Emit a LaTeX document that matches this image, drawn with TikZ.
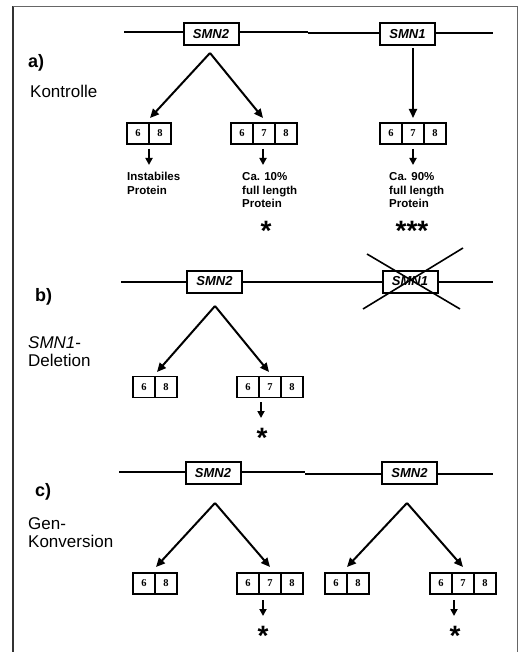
\documentclass[tikz,border=0pt]{standalone}
\usepackage{fontspec}
\setmainfont{Liberation Sans}
\newfontfamily\serifdig{Liberation Serif}
\usetikzlibrary{arrows.meta}
\tikzset{
 dna/.style={line width=2pt},
 crossline/.style={line width=1.6pt},
 gene/.style={draw, line width=2pt, fill=white, minimum width=55pt, minimum height=22pt, inner sep=0pt, font=\fontsize{13}{14}\selectfont\bfseries\itshape},
 cell/.style={draw, line width=1.9pt, minimum width=22pt, minimum height=21pt, inner sep=0pt, outer sep=0pt, font=\serifdig\fontsize{10.5}{11}\selectfont\bfseries},
 arr/.style={line width=2pt, -{Triangle[length=9pt,width=8pt]}},
 sarr/.style={line width=2pt, -{Triangle[length=7pt,width=7pt]}},
 prot/.style={anchor=north west, inner sep=0pt, align=left, font=\fontsize{11.5}{13.8}\selectfont\bfseries},
 lab/.style={anchor=west, inner sep=0pt, font=\fontsize{18}{20}\selectfont\bfseries},
 desc/.style={anchor=north west, inner sep=0pt, align=left, font=\fontsize{17}{18.5}\selectfont},
 star/.style={anchor=base, inner sep=0pt, font=\fontsize{28}{28}\selectfont\bfseries},
}
\begin{document}
\begin{tikzpicture}[x=1pt,y=-1pt]
\useasboundingbox (0,0) rectangle (518,652);
% frame
\coordinate (fBL) at (12.5,652); \coordinate (fTL) at (12.5,6.5);
\coordinate (fTR) at (517,6.5); \coordinate (fBR) at (517,652);
\draw[line width=2pt, black!80] (fBL) -- (fTL);
\draw[line width=1.8pt, black!60] (fTL) -- (fTR);
\draw[line width=1pt, black!60] (fTR) -- (fBR);

% ================= a)
\coordinate (aL1) at (124,32); \coordinate (aR1) at (308,32);
\coordinate (aL2) at (308,33); \coordinate (aR2) at (493,33);
\draw[dna] (aL1) -- (aR1);
\draw[dna] (aL2) -- (aR2);
\node[gene] (aS2) at (211,34) {SMN2};
\node[gene] (aS1) at (407.5,34) {SMN1};
\node[lab] (la) at (28,63) {a)};
\node[desc, anchor=west] (ka) at (30,91) {Kontrolle};

\coordinate (aA) at (210,53);
\coordinate (aT1) at (150,118); \coordinate (aT2) at (263,118);
\coordinate (aB) at (413,48); \coordinate (aT3) at (413,118);
\draw[arr] (aA) -- (aT1);
\draw[arr] (aA) -- (aT2);
\draw[arr] (aB) -- (aT3);

\node[cell] (a61) at (138,133.5) {6};
\node[cell] (a81) at (160,133.5) {8};
\node[cell] (a62) at (242,133.5) {6};
\node[cell] (a72) at (264,133.5) {7};
\node[cell] (a82) at (286,133.5) {8};
\node[cell] (a63) at (391,133.5) {6};
\node[cell] (a73) at (413,133.5) {7};
\node[cell] (a83) at (435,133.5) {8};

\draw[sarr] ([yshift=-5pt]a61.south east) -- ([yshift=-21pt]a61.south east);
\draw[sarr] ([yshift=-5pt,xshift=-1pt]a72.south) -- ([yshift=-21pt,xshift=-1pt]a72.south);
\draw[sarr] ([yshift=-5pt]a73.south) -- ([yshift=-21pt]a73.south);

\node[prot] (aP1) at (127,172) {Instabiles\\Protein};
\node[prot] (aP2) at (242,172) {Ca. 10\%\\full length\\Protein};
\node[prot] (aP3) at (389,172) {Ca. 90\%\\full length\\Protein};
\node[star] (aSt1) at (266,240) {*};
\node[star] (aSt3) at (412,240) {***};

% ================= b)
\coordinate (bL) at (121,282); \coordinate (bR) at (493,282);
\draw[dna] (bL) -- (bR);
\node[gene] (bS2) at (214.5,281.5) {SMN2};
\node[gene] (bS1) at (410,281.5) {SMN1};
\coordinate (bX1) at (367,254); \coordinate (bX2) at (460,309);
\coordinate (bX3) at (463,248); \coordinate (bX4) at (363,309);
\draw[crossline] (bX1) -- (bX2);
\draw[crossline] (bX3) -- (bX4);
\node[lab] (lb) at (35,297) {b)};
\node[desc] (kb) at (28,336) {\itshape SMN1\upshape -\\Deletion};

\coordinate (bA) at (215,306);
\coordinate (bT1) at (157,372); \coordinate (bT2) at (269,372);
\draw[arr] (bA) -- (bT1);
\draw[arr] (bA) -- (bT2);
\node[cell] (b61) at (144,387) {6};
\node[cell] (b81) at (166,387) {8};
\node[cell] (b62) at (248,387) {6};
\node[cell] (b72) at (270,387) {7};
\node[cell] (b82) at (292,387) {8};
\coordinate (bs1) at (261,402); \coordinate (bs2) at (261,418);
\draw[sarr] (bs1) -- (bs2);
\node[star] (bSt) at (262,447) {*};

% ================= c)
\coordinate (cL1) at (119,472); \coordinate (cR1) at (305,472);
\coordinate (cL2) at (305,474); \coordinate (cR2) at (493,474);
\draw[dna] (cL1) -- (cR1);
\draw[dna] (cL2) -- (cR2);
\node[gene] (cS2a) at (213,473) {SMN2};
\node[gene] (cS2b) at (409.5,473) {SMN2};
\node[lab] (lc) at (35,492) {c)};
\node[desc] (kc) at (28,517) {Gen-\\Konversion};

\coordinate (cA) at (215,503); \coordinate (cB) at (407,503);
\coordinate (cT1) at (156,567); \coordinate (cT2) at (270,567);
\coordinate (cT3) at (347,567); \coordinate (cT4) at (463,567);
\draw[arr] (cA) -- (cT1);
\draw[arr] (cA) -- (cT2);
\draw[arr] (cB) -- (cT3);
\draw[arr] (cB) -- (cT4);
\node[cell] (c61) at (144,583.5) {6};
\node[cell] (c81) at (166,583.5) {8};
\node[cell] (c62) at (248,583.5) {6};
\node[cell] (c72) at (270,583.5) {7};
\node[cell] (c82) at (292,583.5) {8};
\node[cell] (c63) at (336,583.5) {6};
\node[cell] (c83) at (358,583.5) {8};
\node[cell] (c64) at (441,583.5) {6};
\node[cell] (c74) at (463,583.5) {7};
\node[cell] (c84) at (485,583.5) {8};
\coordinate (cs1) at (263,600); \coordinate (cs2) at (263,616);
\coordinate (cs3) at (454,600); \coordinate (cs4) at (454,616);
\draw[sarr] (cs1) -- (cs2);
\draw[sarr] (cs3) -- (cs4);
\node[star] (cSt1) at (263,645) {*};
\node[star] (cSt2) at (455,645) {*};
\end{tikzpicture}
\end{document}
